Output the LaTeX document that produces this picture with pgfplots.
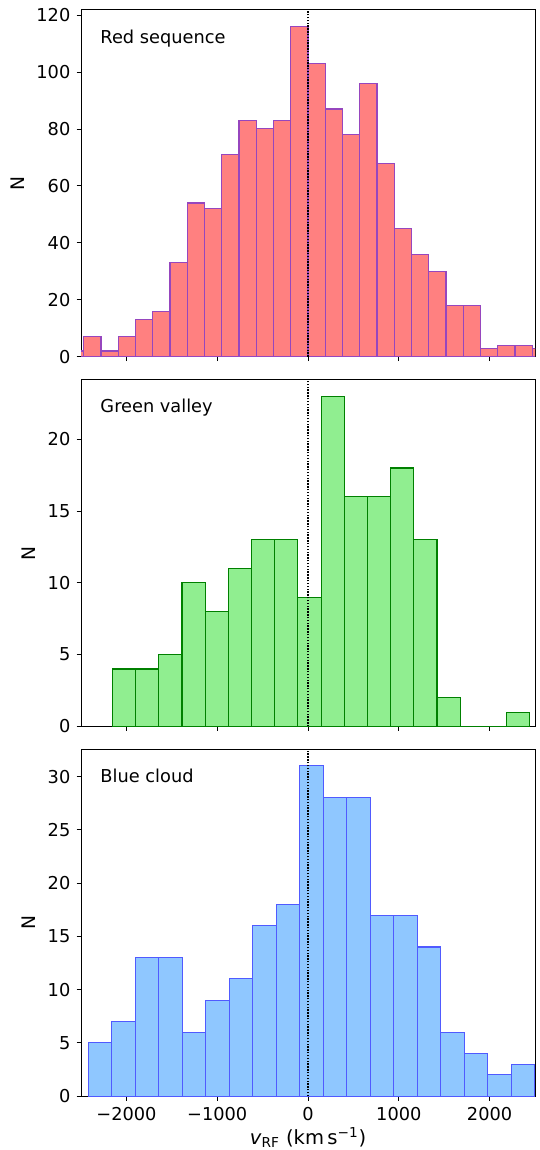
\documentclass[border=0pt]{standalone}
\usepackage{fontspec}
\setmainfont{DejaVu Sans}
\usepackage{pgfplots}
\pgfplotsset{compat=1.18}

\definecolor{redface}{RGB}{255,128,128}
\definecolor{rededge}{RGB}{150,70,190}
\definecolor{greenface}{RGB}{144,238,144}
\definecolor{greenedge}{RGB}{0,128,0}
\definecolor{blueface}{RGB}{143,199,255}
\definecolor{blueedge}{RGB}{80,90,255}

\tikzset{paneltext/.style={anchor=base west, inner sep=0pt, font=\fontsize{10}{12}\selectfont}}
\pgfplotsset{
 panel/.style={
  scale only axis, width=255.4pt, height=195.1pt,
  xmin=-2500, xmax=2500, ymin=0,
  tick pos=left, tick align=outside,
  major tick length=2.5pt,
  xtick={-2000,-1000,0,1000,2000},
  ylabel={N},
  tick label style={font=\fontsize{10}{12}\selectfont},
  ylabel style={font=\fontsize{10.5}{12}\selectfont},
  xlabel style={font=\fontsize{11}{13}\selectfont, yshift=3pt},
  /pgf/number format/assume math mode=true,
  axis line style={line width=0.5pt},
  major tick style={black, line width=0.5pt},
 },
}

\begin{document}
\begin{tikzpicture}
\path[use as bounding box] (-45.6pt,-446.3pt) rectangle (258.2pt,200.7pt);

% Red sequence
\begin{axis}[panel, at={(0pt,0pt)}, ymax=121.8, ytick={0,20,40,60,80,100,120}, xticklabels={}]
\addplot[ybar interval, fill=redface, draw=rededge, line width=0.6pt] coordinates {
(-2660,2) (-2470,7) (-2280,2) (-2090,7) (-1900,13) (-1710,16) (-1520,33) (-1330,54)
(-1140,52) (-950,71) (-760,83) (-570,80) (-380,83) (-190,116) (0,103) (190,87)
(380,78) (570,96) (760,68) (950,45) (1140,36) (1330,30) (1520,18) (1710,18)
(1900,3) (2090,4) (2280,4) (2470,3) (2660,3)};
\addplot[black, line width=0.7pt, dash pattern=on 0.8pt off 0.8pt] coordinates {(0,0) (0,121.8)};
\node[paneltext] at (rel axis cs:0.042,0.904) {Red sequence};
\end{axis}

% Green valley
\begin{axis}[panel, at={(0pt,-208pt)}, ymax=24.15, ytick={0,5,10,15,20}, xticklabels={}]
\addplot[ybar interval, fill=greenface, draw=greenedge, line width=0.6pt] coordinates {
(-2154,4) (-1898.7,4) (-1643.4,5) (-1388.1,10) (-1132.8,8) (-877.5,11) (-622.2,13)
(-366.9,13) (-111.6,9) (143.7,23) (399,16) (654.3,16) (909.6,18) (1164.9,13)
(1420.2,2) (1675.5,0) (1930.8,0) (2186.1,1) (2441.4,1)};
\addplot[black, line width=0.7pt, dash pattern=on 0.8pt off 0.8pt] coordinates {(0,0) (0,24.15)};
\node[paneltext] at (rel axis cs:0.042,0.904) {Green valley};
\end{axis}

% Blue cloud
\begin{axis}[panel, at={(0pt,-416pt)}, ymax=32.55, ytick={0,5,10,15,20,25,30},
  xticklabels={−2000,−1000,0,1000,2000},
  xlabel={\textit{v}\textsubscript{RF} (km\,s\textsuperscript{−1})}]
\addplot[ybar interval, fill=blueface, draw=blueedge, line width=0.6pt] coordinates {
(-2423,5) (-2164,7) (-1905,13) (-1646,13) (-1387,6) (-1128,9) (-869,11) (-610,16)
(-351,18) (-92,31) (167,28) (426,28) (685,17) (944,17) (1203,14) (1462,6)
(1721,4) (1980,2) (2239,3) (2498,3)};
\addplot[black, line width=0.7pt, dash pattern=on 0.8pt off 0.8pt] coordinates {(0,0) (0,32.55)};
\node[paneltext] at (rel axis cs:0.042,0.904) {Blue cloud};
\end{axis}
\end{tikzpicture}
\end{document}
